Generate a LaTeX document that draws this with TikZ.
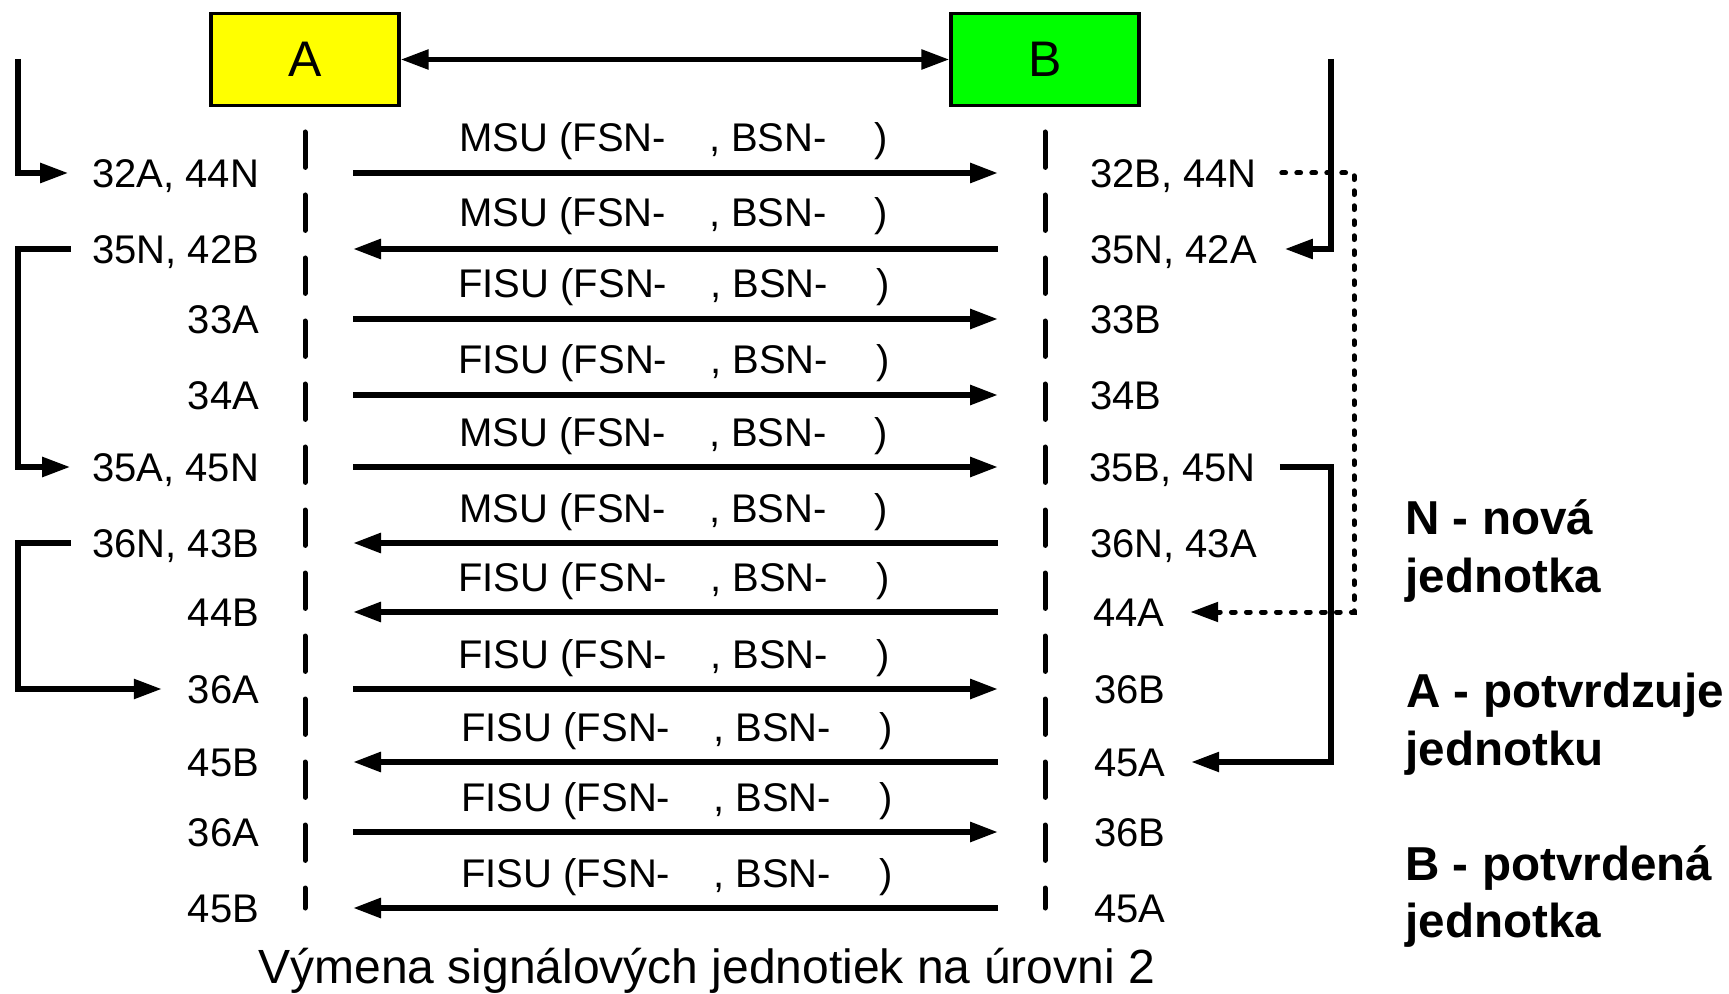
\documentclass[tikz,border=0pt]{standalone}
\usepackage{fontspec}
\setmainfont{Liberation Sans}
\usetikzlibrary{arrows.meta,calc}
\definecolor{ayellow}{RGB}{255,255,0}
\definecolor{bgreen}{RGB}{0,255,0}
\newcommand\msgtext[1]{#1 (FSN-\hspace{21.5pt}, BSN-\hspace{24pt})}
\begin{document}
\begin{tikzpicture}[x=0.5pt,y=-0.5pt,
  lbl/.style={inner sep=0pt, outer sep=0pt, text height=14.3pt, text depth=0pt, font=\fontsize{20}{24}\selectfont},
  msglbl/.style={inner sep=0pt, anchor=base west, font=\fontsize{20}{24}\selectfont},
  ent/.style={draw=black, line width=1.6pt, minimum width=94pt, minimum height=46pt, inner sep=0pt, font=\fontsize{25}{30}\selectfont},
  tip/.style={-{Triangle[length=14pt,width=9.5pt]}},
  msg/.style={line width=2.9pt, tip},
  life/.style={line width=2.5pt, line cap=round, dash pattern=on 17.7pt off 13.8pt},
  brk/.style={line width=2.7pt, tip},
  dotl/.style={line width=2.5pt, line cap=round, dash pattern=on 1.9pt off 5.6pt, tip},
  leg/.style={inner sep=0pt, anchor=base west, font=\bfseries\fontsize{23.8}{28}\selectfont},
]
\useasboundingbox (0,0) rectangle (1729,994);

% entities
\node[ent, fill=ayellow] (A) at (305,59.5) {A};
\node[ent, fill=bgreen] (B) at (1045,59.5) {B};
\draw[line width=2.7pt, {Triangle[length=14pt,width=9.5pt]}-{Triangle[length=14pt,width=9.5pt]}] (A) -- (B);

% lifelines
\coordinate (ltop) at (0,132);
\coordinate (lbot) at (0,908);
\draw[life] (A |- ltop) -- (A |- lbot);
\draw[life] (B |- ltop) -- (B |- lbot);

% left labels
\node[lbl, anchor=east] (l1) at (259,173) {32A, 44N};
\node[lbl, anchor=east] (l2) at (259,249) {35N, 42B};
\node[lbl, anchor=east] (l3) at (259,319) {33A};
\node[lbl, anchor=east] (l4) at (259,395) {34A};
\node[lbl, anchor=east] (l5) at (259,467) {35A, 45N};
\node[lbl, anchor=east] (l6) at (259,543) {36N, 43B};
\node[lbl, anchor=east] (l7) at (259,612) {44B};
\node[lbl, anchor=east] (l8) at (259,689) {36A};
\node[lbl, anchor=east] (l9) at (259,762) {45B};
\node[lbl, anchor=east] (l10) at (259,832) {36A};
\node[lbl, anchor=east] (l11) at (259,908) {45B};

% right labels
\node[lbl, anchor=west] (r1) at (1090,173) {32B, 44N};
\node[lbl, anchor=west] (r2) at (1090,249) {35N, 42A};
\node[lbl, anchor=west] (r3) at (1090,319) {33B};
\node[lbl, anchor=west] (r4) at (1090,395) {34B};
\node[lbl, anchor=west] (r5) at (1089,467) {35B, 45N};
\node[lbl, anchor=west] (r6) at (1090,543) {36N, 43A};
\node[lbl, anchor=west] (r7) at (1093,612) {44A};
\node[lbl, anchor=west] (r8) at (1094,689) {36B};
\node[lbl, anchor=west] (r9) at (1094,762) {45A};
\node[lbl, anchor=west] (r10) at (1094,832) {36B};
\node[lbl, anchor=west] (r11) at (1094,908) {45A};

% message labels
\node[msglbl] (m1) at (459,152) {\msgtext{MSU}};
\node[msglbl] (m2) at (459,227) {\msgtext{MSU}};
\node[msglbl] (m3) at (458,298) {\msgtext{FISU}};
\node[msglbl] (m4) at (458,374) {\msgtext{FISU}};
\node[msglbl] (m5) at (459,446) {\msgtext{MSU}};
\node[msglbl] (m6) at (459,522) {\msgtext{MSU}};
\node[msglbl] (m7) at (458,591) {\msgtext{FISU}};
\node[msglbl] (m8) at (458,668) {\msgtext{FISU}};
\node[msglbl] (m9) at (461,741) {\msgtext{FISU}};
\node[msglbl] (m10) at (461,811) {\msgtext{FISU}};
\node[msglbl] (m11) at (461,887) {\msgtext{FISU}};

% message arrows
\coordinate (mL) at (353,0);
\coordinate (mR) at (998,0);
\draw[msg] (mL |- l1) -- (mR |- l1);
\draw[msg] (mR |- l2) -- (mL |- l2);
\draw[msg] (mL |- l3) -- (mR |- l3);
\draw[msg] (mL |- l4) -- (mR |- l4);
\draw[msg] (mL |- l5) -- (mR |- l5);
\draw[msg] (mR |- l6) -- (mL |- l6);
\draw[msg] (mR |- l7) -- (mL |- l7);
\draw[msg] (mL |- l8) -- (mR |- l8);
\draw[msg] (mR |- l9) -- (mL |- l9);
\draw[msg] (mL |- l10) -- (mR |- l10);
\draw[msg] (mR |- l11) -- (mL |- l11);

% left brackets
\coordinate (xL) at (18,0);
\coordinate (tL) at (18,59);
\draw[brk] (tL) |- ($(l1.west)+(-24,0)$);
\draw[brk] ($(l2.west)+(-21.6,0)$) -- (xL |- l2.west) |- ($(l5.west)+(-22,0)$);
\draw[brk] ($(l6.west)+(-21.6,0)$) -- (xL |- l6.west) |- ($(l8.west)+(-26,0)$);

% right brackets
\coordinate (xR) at (1331,0);
\coordinate (xD) at (1354,0);
\coordinate (tR) at (1331,59);
\draw[dotl] ($(r1.east)+(25,0)$) -- (xD |- r1.east) |- ($(r7.east)+(26,0)$);
\draw[brk] (tR) |- ($(r2.east)+(28,0)$);
\draw[brk] ($(r5.east)+(24,0)$) -- (xR |- r5.east) |- ($(r9.east)+(26,0)$);

% legend
\node[leg] (n1) at (1405,534) {N - nová};
\node[leg] (n2) at (1405,592) {jednotka};
\node[leg] (a1) at (1406,707) {A - potvrdzuje};
\node[leg] (a2) at (1405,765) {jednotku};
\node[leg] (b1) at (1405,880) {B - potvrdená};
\node[leg] (b2) at (1405,937) {jednotka};

% caption
\node[inner sep=0pt, anchor=base west, font=\fontsize{24}{28}\selectfont] (cap) at (258,983) {Výmena signálových jednotiek na úrovni 2};
\end{tikzpicture}
\end{document}
